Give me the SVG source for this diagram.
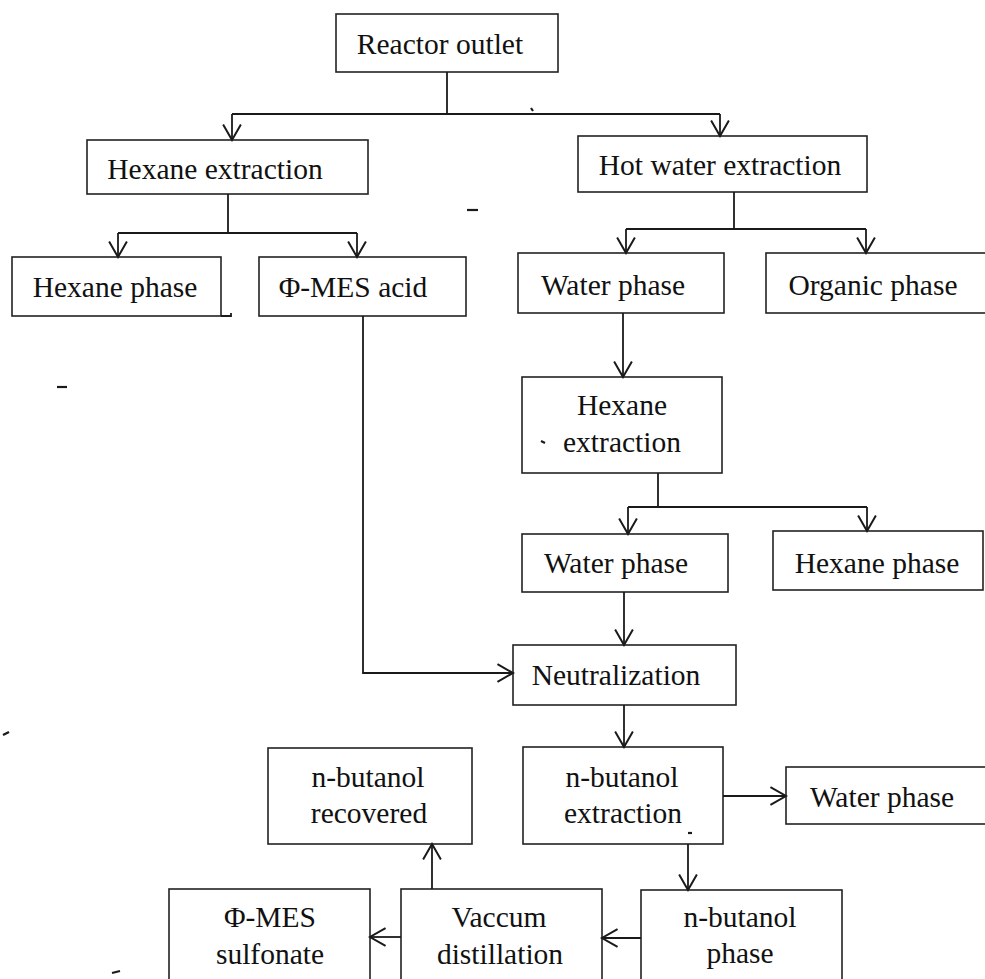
<svg xmlns="http://www.w3.org/2000/svg" width="985" height="979" viewBox="0 0 985 979">
<defs>
<style>
.box{fill:#fff;stroke:#222;stroke-width:1.6}
.t{font-family:"Liberation Serif","Times New Roman",serif;font-size:29.5px;fill:#111;text-anchor:middle}
.c{fill:none;stroke:#1a1a1a;stroke-width:1.8}
.m{fill:none;stroke:#1a1a1a;stroke-width:2.2}
</style>
<marker id="ah" markerUnits="userSpaceOnUse" markerWidth="20" markerHeight="20" viewBox="0 0 16 18" refX="15" refY="9" orient="auto">
<path d="M1,1 L15,9 L1,17" fill="none" stroke="#1a1a1a" stroke-width="1.8"/>
</marker>
</defs>
<rect width="985" height="979" fill="#fff"/>

<g id="reactor-outlet"><rect class="box" x="336" y="14" width="222" height="58"/><text class="t" x="440" y="54">Reactor outlet</text></g>
<g id="hexane-extraction-1"><rect class="box" x="87" y="140" width="281" height="54"/><text class="t" x="215" y="179">Hexane extraction</text></g>
<g id="hot-water-extraction"><rect class="box" x="578" y="136" width="289" height="56"/><text class="t" x="720" y="175">Hot water extraction</text></g>
<g id="hexane-phase-1"><rect class="box" x="12" y="257" width="209" height="59"/><path class="c" d="M221,316 H231 V313"/><text class="t" x="115" y="297">Hexane phase</text></g>
<g id="mes-acid"><rect class="box" x="259" y="257" width="207" height="59"/><text class="t" x="353" y="297">Φ-MES acid</text></g>
<g id="water-phase-1"><rect class="box" x="518" y="253" width="206" height="60"/><text class="t" x="613" y="295">Water phase</text></g>
<g id="organic-phase"><rect class="box" x="766" y="253" width="230" height="60"/><text class="t" x="873" y="295">Organic phase</text></g>
<g id="hexane-extraction-2"><rect class="box" x="522" y="377" width="200" height="96"/><text class="t" x="622" y="415">Hexane</text><text class="t" x="622" y="452">extraction</text></g>
<g id="water-phase-2"><rect class="box" x="522" y="534" width="206" height="58"/><text class="t" x="616" y="573">Water phase</text></g>
<g id="hexane-phase-2"><rect class="box" x="773" y="531" width="210" height="59"/><text class="t" x="877" y="573">Hexane phase</text></g>
<g id="neutralization"><rect class="box" x="513" y="645" width="223" height="60"/><text class="t" x="616" y="685">Neutralization</text></g>
<g id="n-butanol-extraction"><rect class="box" x="523" y="747" width="200" height="97"/><text class="t" x="622" y="787">n-butanol</text><text class="t" x="623" y="823">extraction</text></g>
<g id="water-phase-3"><rect class="box" x="786" y="767" width="210" height="57"/><text class="t" x="882" y="807">Water phase</text></g>
<g id="n-butanol-recovered"><rect class="box" x="268" y="748" width="204" height="96"/><text class="t" x="368" y="787">n-butanol</text><text class="t" x="369" y="823">recovered</text></g>
<g id="mes-sulfonate"><rect class="box" x="169" y="889" width="201" height="100"/><text class="t" x="270" y="927">Φ-MES</text><text class="t" x="270" y="964">sulfonate</text></g>
<g id="vaccum-distillation"><rect class="box" x="401" y="889" width="201" height="100"/><text class="t" x="499" y="927">Vaccum</text><text class="t" x="500" y="964">distillation</text></g>
<g id="n-butanol-phase"><rect class="box" x="641" y="890" width="201" height="100"/><text class="t" x="740" y="927">n-butanol</text><text class="t" x="740" y="963">phase</text></g>

<g id="connectors">
<path class="c" d="M447,72 V114"/>
<path class="c" d="M232,114 H720"/>
<path class="c" d="M232,114 V140" marker-end="url(#ah)"/>
<path class="c" d="M720,114 V136" marker-end="url(#ah)"/>
<path class="c" d="M228,194 V233"/>
<path class="c" d="M118,233 H357"/>
<path class="c" d="M118,233 V257" marker-end="url(#ah)"/>
<path class="c" d="M357,233 V257" marker-end="url(#ah)"/>
<path class="c" d="M734,192 V229"/>
<path class="c" d="M626,229 H866"/>
<path class="c" d="M626,229 V253" marker-end="url(#ah)"/>
<path class="c" d="M866,229 V253" marker-end="url(#ah)"/>
<path class="c" d="M623,313 V377" marker-end="url(#ah)"/>
<path class="c" d="M658,473 V507"/>
<path class="c" d="M628,507 H867"/>
<path class="c" d="M628,507 V534" marker-end="url(#ah)"/>
<path class="c" d="M867,507 V531" marker-end="url(#ah)"/>
<path class="c" d="M624,592 V645" marker-end="url(#ah)"/>
<path class="c" d="M363,316 V673 H513" marker-end="url(#ah)"/>
<path class="c" d="M624,705 V747" marker-end="url(#ah)"/>
<path class="c" d="M723,796 H786" marker-end="url(#ah)"/>
<path class="c" d="M688,844 V890" marker-end="url(#ah)"/>
<path class="c" d="M641,938 H602" marker-end="url(#ah)"/>
<path class="c" d="M401,937 H370" marker-end="url(#ah)"/>
<path class="c" d="M432,889 V844" marker-end="url(#ah)"/>
</g>

<g id="marks">
<path class="m" d="M467,210 H478"/>
<path class="m" d="M57,387 H67"/>
<path class="m" d="M3,735 L9,732"/>
<path class="m" d="M112,973 L120,971"/>
<path class="m" d="M541,441 L545,443"/>
<path class="m" d="M688,833 H692"/>
<path class="m" d="M531,108 L533,111"/>
</g>
</svg>
